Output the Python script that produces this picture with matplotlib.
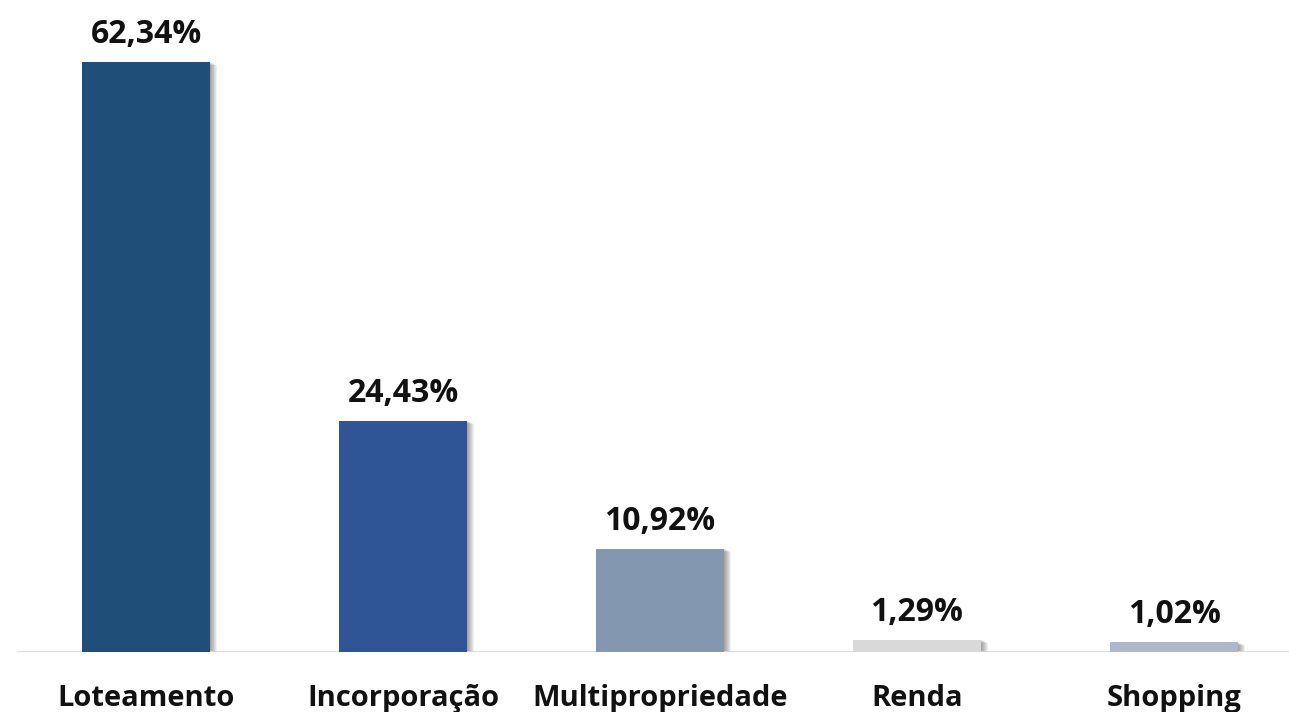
import numpy as np
import matplotlib.pyplot as plt

categories = ["Loteamento", "Incorporação", "Multipropriedade", "Renda", "Shopping"]
values = [62.34, 24.43, 10.92, 1.29, 1.02]
labels = ["62,34%", "24,43%", "10,92%", "1,29%", "1,02%"]
colors = ["#1F4E79", "#2F5597", "#8497B0", "#D9D9D9", "#ADB9CA"]

plt.rcParams['font.family'] = ['Open Sans', 'DejaVu Sans']

W, H = 1289, 712
fig = plt.figure(figsize=(W / 100, H / 100), dpi=100)
ax = fig.add_axes([17 / W, 60 / H, 1272 / W, 652 / H])

x = np.arange(len(categories))
ppu = 9.46  # pixels per percent
ax.set_ylim(0, 652 / ppu)
ax.set_xlim(-129 / 257, (1272 - 129) / 257)

# soft drop shadow on the right/bottom of each bar
for k in range(7):
    off = (k + 1) / 257
    ax.bar(x + off, values, width=0.5, bottom=-k * 0.05, color="#000000",
           alpha=0.06, zorder=1, linewidth=0)

ax.bar(x, values, width=0.5, color=colors, zorder=3, linewidth=0)

for xi, v, lab in zip(x, values, labels):
    ax.annotate(lab, (xi, v), xytext=(0, 19 * 0.72), textcoords="offset points",
                ha="center", va="baseline", fontsize=23, fontweight="bold",
                color="#111111", zorder=4)

ax.axhline(0, color="#D9D9D9", linewidth=2, zorder=2)

for xi, c in zip(x, categories):
    ax.annotate(c, (xi, 0), xytext=(0, -54 * 0.72), textcoords="offset points",
                ha="center", va="baseline", fontsize=21, fontweight="bold",
                color="#111111", annotation_clip=False)

ax.axis("off")
fig.savefig("out.png", dpi=100)
